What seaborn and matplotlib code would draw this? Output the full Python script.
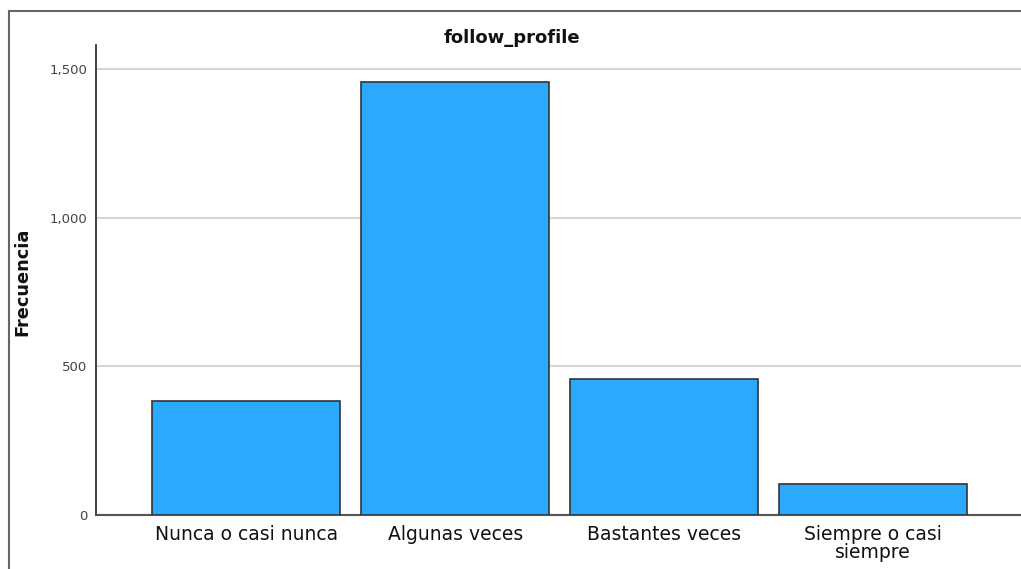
import matplotlib
matplotlib.use("Agg")
import matplotlib.pyplot as plt
from matplotlib.patches import Rectangle
from matplotlib.ticker import FuncFormatter
import pandas as pd
import seaborn as sns

# data
categories = ["Nunca o casi nunca", "Algunas veces", "Bastantes veces", "Siempre o casi\nsiempre"]
counts = [383, 1456, 457, 104]
y_ticks = [0, 500, 1000, 1500]

df = pd.DataFrame({"categoria": categories, "frecuencia": counts})

sns.set_style("white")
plt.rcParams["font.family"] = ["DejaVu Sans"]

fig = plt.figure(figsize=(10.21, 5.69), dpi=100)
ax = fig.add_axes([96 / 1021, 1 - 515 / 569, 1 - 96 / 1021, (515 - 45) / 569])

sns.barplot(data=df, x="categoria", y="frecuencia", color="#2AA9FF",
            edgecolor="#333333", linewidth=1.2, width=0.9, saturation=1, ax=ax, zorder=3)

ax.set_xlim(-0.72, 3.71)
ax.set_ylim(0, 1581)
ax.set_yticks(y_ticks)
ax.yaxis.set_major_formatter(FuncFormatter(lambda v, p: f"{int(v):,}"))
ax.grid(axis="y", color="#d6d6d6", linewidth=1.5, zorder=0)
ax.set_axisbelow(True)

for side in ["top", "right"]:
    ax.spines[side].set_visible(False)
ax.spines["left"].set_color("#222222")
ax.spines["bottom"].set_color("#555555")
ax.spines["left"].set_linewidth(1.2)
ax.spines["bottom"].set_linewidth(1.5)

ax.tick_params(axis="y", labelsize=9.5, labelcolor="#444444", length=0, pad=6)
ax.tick_params(axis="x", labelsize=13.5, labelcolor="#111111", length=0, pad=7)
for lbl in ax.get_xticklabels():
    lbl.set_linespacing(0.95)

ax.set_xlabel("")
ax.set_ylabel("")
fig.text(22 / 1021, 1 - 282 / 569, "Frecuencia", rotation=90, ha="center", va="center",
         fontsize=12.8, fontweight="bold", color="#111111")
fig.text(512 / 1021, 1 - 38 / 569, "follow_profile", ha="center", va="center",
         fontsize=13, fontweight="bold", color="#111111")

# outer frame of the chart area
fig.patches.append(Rectangle((9 / 1021, -0.05), 1.2, 1 - 11 / 569 + 0.05,
                             transform=fig.transFigure, fill=False,
                             edgecolor="#666666", linewidth=1.5))

fig.savefig("out.png", dpi=100)
